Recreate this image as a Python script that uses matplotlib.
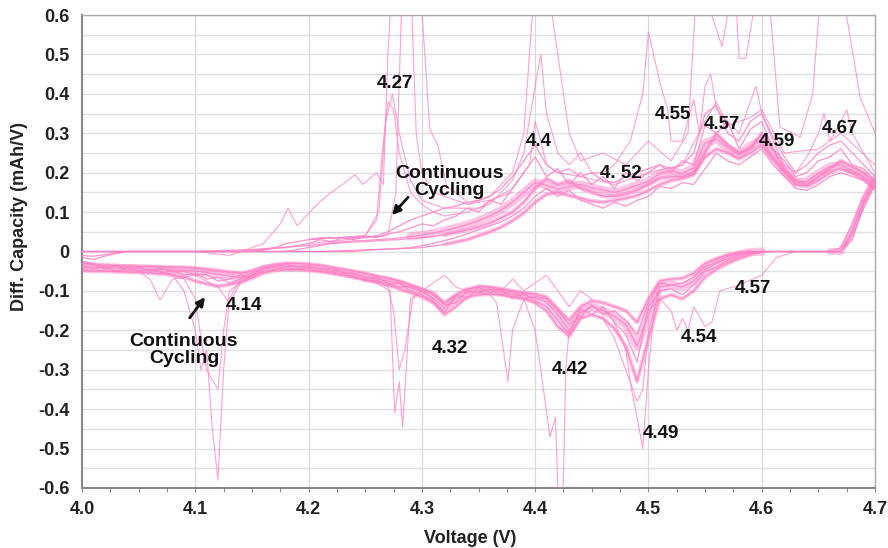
import numpy as np
import matplotlib
matplotlib.use("Agg")
import matplotlib.pyplot as plt
from matplotlib.ticker import MultipleLocator, FixedLocator

plt.rcParams['font.family'] = ['Liberation Sans', 'DejaVu Sans']

# ---------------- data ----------------
# common voltage grid 4.00 .. 4.70 V, 0.01 V step
V_GRID = np.round(np.linspace(4.00, 4.70, 71), 2)

# charge (positive) band curves
CH_MID = [-0.010, -0.012, -0.008, -0.004, 0.000, 0.000, 0.000, 0.000, 0.000, 0.000,
          0.000, 0.001, 0.002, 0.003, 0.004, 0.005, 0.007, 0.009, 0.011, 0.013,
          0.015, 0.018, 0.022, 0.025, 0.027, 0.028, 0.030, 0.032, 0.034, 0.038,
          0.042, 0.047, 0.053, 0.060, 0.068, 0.078, 0.090, 0.105, 0.125, 0.150,
          0.175, 0.168, 0.158, 0.165, 0.170, 0.162, 0.156, 0.150, 0.158, 0.168,
          0.178, 0.198, 0.205, 0.198, 0.212, 0.275, 0.285, 0.262, 0.245, 0.268,
          0.285, 0.240, 0.205, 0.175, 0.178, 0.198, 0.215, 0.220, 0.205, 0.190,
          0.168]
CH_LATE = [0.000, 0.000, 0.000, 0.000, 0.000, 0.000, 0.000, 0.000, 0.000, 0.000,
           0.000, 0.000, 0.000, 0.000, 0.000, 0.000, 0.000, 0.000, 0.000, 0.000,
           0.000, 0.000, 0.001, 0.002, 0.003, 0.004, 0.005, 0.006, 0.007, 0.008,
           0.010, 0.014, 0.018, 0.024, 0.030, 0.040, 0.050, 0.062, 0.078, 0.098,
           0.125, 0.145, 0.150, 0.142, 0.135, 0.128, 0.125, 0.130, 0.135, 0.142,
           0.155, 0.170, 0.180, 0.185, 0.195, 0.240, 0.260, 0.250, 0.235, 0.250,
           0.270, 0.235, 0.200, 0.170, 0.165, 0.180, 0.200, 0.210, 0.200, 0.185,
           0.160]
CH_EARLY = [-0.015, -0.020, -0.012, -0.005, 0.000, 0.000, 0.000, 0.000, 0.000, 0.000,
            0.000, 0.000, 0.000, 0.000, 0.000, 0.000, 0.005, 0.010, 0.020, 0.025,
            0.030, 0.035, 0.035, 0.035, 0.035, 0.036, 0.040, 0.050, 0.065, 0.080,
            0.090, 0.100, 0.110, 0.115, 0.125, 0.130, 0.140, 0.160, 0.190, 0.230,
            0.270, 0.220, 0.200, 0.210, 0.190, 0.200, 0.180, 0.175, 0.190, 0.200,
            0.210, 0.220, 0.210, 0.220, 0.250, 0.350, 0.370, 0.300, 0.280, 0.330,
            0.350, 0.290, 0.240, 0.200, 0.220, 0.250, 0.270, 0.280, 0.250, 0.220,
            0.190]
CH_MID2 = [0.000, 0.000, 0.000, 0.000, 0.000, 0.000, 0.000, 0.000, 0.000, 0.000,
           0.000, 0.000, 0.000, 0.000, 0.000, 0.000, 0.000, 0.000, 0.000, 0.005,
           0.010, 0.015, 0.020, 0.022, 0.024, 0.025, 0.027, 0.029, 0.030, 0.033,
           0.035, 0.038, 0.042, 0.048, 0.055, 0.062, 0.072, 0.085, 0.100, 0.125,
           0.160, 0.185, 0.170, 0.180, 0.160, 0.150, 0.140, 0.140, 0.145, 0.155,
           0.170, 0.185, 0.190, 0.190, 0.200, 0.250, 0.300, 0.270, 0.250, 0.260,
           0.300, 0.260, 0.210, 0.180, 0.170, 0.190, 0.210, 0.230, 0.215, 0.200,
           0.175]
CH_NOISY1 = [0.000, 0.000, 0.000, 0.000, 0.000, 0.000, 0.000, 0.000, 0.000, 0.000,
             0.000, 0.000, 0.000, 0.000, 0.000, 0.002, 0.004, 0.008, 0.010, 0.015,
             0.020, 0.030, 0.025, 0.035, 0.030, 0.040, 0.035, 0.045, 0.050, 0.060,
             0.070, 0.065, 0.080, 0.090, 0.110, 0.100, 0.130, 0.120, 0.160, 0.200,
             0.240, 0.190, 0.210, 0.170, 0.200, 0.170, 0.190, 0.160, 0.200, 0.180,
             0.200, 0.220, 0.200, 0.230, 0.220, 0.320, 0.300, 0.330, 0.260, 0.310,
             0.330, 0.260, 0.230, 0.190, 0.200, 0.230, 0.240, 0.260, 0.220, 0.210,
             0.180]
CH_NOISY2 = [0.000, 0.000, 0.000, 0.000, 0.000, 0.000, 0.000, 0.000, 0.000, 0.000,
             0.000, 0.000, 0.000, 0.000, 0.000, 0.000, 0.000, 0.000, 0.000, 0.000,
             0.000, 0.000, 0.000, 0.000, 0.000, 0.003, 0.005, 0.006, 0.008, 0.010,
             0.015, 0.020, 0.028, 0.035, 0.045, 0.055, 0.065, 0.075, 0.090, 0.110,
             0.140, 0.160, 0.140, 0.155, 0.130, 0.120, 0.110, 0.125, 0.115, 0.130,
             0.140, 0.165, 0.160, 0.175, 0.170, 0.210, 0.250, 0.230, 0.220, 0.240,
             0.260, 0.220, 0.190, 0.160, 0.155, 0.170, 0.190, 0.200, 0.190, 0.180,
             0.155]

# charge outlier curves (early cycles with sharp peaks)
SP1_V = [4.10, 4.13, 4.16, 4.175, 4.182, 4.19, 4.207, 4.219, 4.23, 4.241, 4.248,
         4.26, 4.266, 4.27, 4.274, 4.28, 4.29, 4.298, 4.307, 4.314, 4.322, 4.33,
         4.342, 4.36, 4.38, 4.39, 4.40, 4.41, 4.419, 4.43, 4.44, 4.46, 4.48, 4.50,
         4.52, 4.535, 4.543, 4.55, 4.565, 4.576, 4.58, 4.586, 4.598, 4.605, 4.616,
         4.634, 4.645, 4.653, 4.669, 4.687, 4.70]
SP1_Y = [0.000, -0.010, 0.020, 0.070, 0.110, 0.065, 0.118, 0.148, 0.170, 0.195, 0.170,
         0.200, 0.170, 0.500, 0.700, 0.700, 0.700, 0.700, 0.310, 0.270, 0.165, 0.150,
         0.120, 0.140, 0.200, 0.300, 0.700, 0.700, 0.520, 0.300, 0.230, 0.250, 0.220, 0.280,
         0.230, 0.300, 0.700, 0.650, 0.520, 0.700, 0.490, 0.490, 0.700, 0.700, 0.316,
         0.290, 0.400, 0.700, 0.700, 0.390, 0.300]
SP2_V = [4.20, 4.25, 4.27, 4.277, 4.283, 4.29, 4.295, 4.30, 4.31, 4.32, 4.34, 4.36, 4.38]
SP2_Y = [0.020, 0.035, 0.040, 0.150, 0.700, 0.700, 0.300, 0.200, 0.150, 0.140, 0.120, 0.130, 0.150]
SP3_V = [4.20, 4.25, 4.26, 4.265, 4.27, 4.275, 4.28, 4.29, 4.30, 4.31, 4.32, 4.34, 4.36,
         4.38, 4.39, 4.40, 4.405, 4.41, 4.42, 4.43, 4.44, 4.45, 4.46, 4.47, 4.484, 4.495,
         4.50, 4.51, 4.517, 4.52, 4.53, 4.54, 4.545, 4.55, 4.555, 4.56, 4.57, 4.58, 4.59,
         4.595, 4.60, 4.61, 4.62, 4.63, 4.64, 4.65, 4.655, 4.66, 4.67, 4.675, 4.68, 4.69, 4.70]
SP3_Y = [0.030, 0.040, 0.080, 0.250, 0.380, 0.360, 0.250, 0.150, 0.120, 0.100, 0.090, 0.100, 0.120,
         0.180, 0.250, 0.420, 0.500, 0.350, 0.250, 0.220, 0.250, 0.200, 0.200, 0.220, 0.280, 0.400,
         0.557, 0.430, 0.360, 0.280, 0.280, 0.385, 0.300, 0.420, 0.450, 0.360, 0.330, 0.300, 0.380,
         0.420, 0.350, 0.280, 0.220, 0.200, 0.240, 0.300, 0.350, 0.280, 0.330, 0.360, 0.300, 0.250, 0.200]
SP4_V = [4.20, 4.25, 4.262, 4.268, 4.274, 4.28, 4.29, 4.30, 4.32, 4.35, 4.38, 4.395, 4.40,
         4.405, 4.41, 4.42, 4.44, 4.47, 4.50, 4.53, 4.55, 4.56, 4.57, 4.59, 4.60, 4.62, 4.65, 4.67, 4.70]
SP4_Y = [0.030, 0.040, 0.100, 0.330, 0.400, 0.300, 0.180, 0.130, 0.110, 0.110, 0.160, 0.220, 0.330,
         0.280, 0.220, 0.200, 0.190, 0.170, 0.200, 0.220, 0.330, 0.380, 0.320, 0.340, 0.360, 0.250, 0.260, 0.300, 0.220]

# discharge (negative) band curves
DC_MID = [-0.040, -0.040, -0.041, -0.042, -0.043, -0.044, -0.045, -0.046, -0.047, -0.048,
          -0.050, -0.053, -0.058, -0.062, -0.066, -0.055, -0.045, -0.040, -0.038, -0.038,
          -0.040, -0.043, -0.047, -0.052, -0.058, -0.064, -0.070, -0.075, -0.082, -0.092,
          -0.102, -0.118, -0.143, -0.120, -0.105, -0.098, -0.098, -0.102, -0.108, -0.112,
          -0.118, -0.128, -0.160, -0.200, -0.155, -0.140, -0.150, -0.165, -0.185, -0.240,
          -0.160, -0.090, -0.085, -0.090, -0.075, -0.045, -0.030, -0.018, -0.008, -0.002,
          0.000, 0.000, 0.000, 0.000, 0.000, 0.000, 0.000, 0.000, 0.055, 0.130,
          0.185]
DC_LOW = [-0.048, -0.050, -0.050, -0.051, -0.052, -0.053, -0.055, -0.057, -0.060, -0.065,
          -0.075, -0.082, -0.088, -0.084, -0.078, -0.068, -0.055, -0.048, -0.046, -0.046,
          -0.048, -0.051, -0.055, -0.060, -0.066, -0.072, -0.078, -0.085, -0.095, -0.105,
          -0.115, -0.130, -0.160, -0.140, -0.115, -0.110, -0.108, -0.110, -0.115, -0.120,
          -0.130, -0.150, -0.190, -0.215, -0.170, -0.160, -0.170, -0.195, -0.240, -0.330,
          -0.220, -0.120, -0.110, -0.120, -0.100, -0.065, -0.045, -0.030, -0.018, -0.008,
          -0.003, 0.000, 0.000, 0.000, 0.000, 0.000, 0.000, 0.000, 0.040, 0.110,
          0.170]
DC_HIGH = [-0.030, -0.033, -0.035, -0.036, -0.037, -0.038, -0.038, -0.039, -0.040, -0.040,
           -0.042, -0.045, -0.048, -0.052, -0.055, -0.050, -0.040, -0.034, -0.030, -0.030,
           -0.032, -0.035, -0.040, -0.045, -0.050, -0.056, -0.062, -0.068, -0.075, -0.085,
           -0.095, -0.105, -0.130, -0.110, -0.095, -0.090, -0.090, -0.095, -0.100, -0.105,
           -0.108, -0.115, -0.145, -0.175, -0.140, -0.125, -0.130, -0.140, -0.150, -0.180,
           -0.120, -0.075, -0.070, -0.068, -0.055, -0.030, -0.018, -0.008, -0.003, 0.000,
           0.000, 0.000, 0.000, 0.000, 0.000, 0.000, 0.000, 0.010, 0.070, 0.140,
           0.190]
DC_NOISY1 = [-0.035, -0.045, -0.038, -0.050, -0.042, -0.050, -0.045, -0.055, -0.048, -0.060,
             -0.055, -0.070, -0.065, -0.080, -0.070, -0.060, -0.050, -0.045, -0.040, -0.045,
             -0.042, -0.050, -0.050, -0.060, -0.062, -0.075, -0.072, -0.085, -0.080, -0.100,
             -0.110, -0.125, -0.155, -0.110, -0.120, -0.090, -0.105, -0.095, -0.120, -0.105,
             -0.125, -0.140, -0.175, -0.210, -0.145, -0.160, -0.140, -0.180, -0.210, -0.280,
             -0.140, -0.100, -0.095, -0.110, -0.085, -0.050, -0.040, -0.022, -0.012, -0.005,
             0.000, 0.000, 0.000, 0.000, 0.000, 0.000, 0.000, 0.000, 0.030, 0.120,
             0.175]
DC_NOISY2 = [-0.025, -0.030, -0.045, -0.035, -0.048, -0.040, -0.050, -0.042, -0.052, -0.050,
             -0.062, -0.058, -0.075, -0.070, -0.060, -0.065, -0.042, -0.038, -0.032, -0.040,
             -0.036, -0.045, -0.042, -0.055, -0.055, -0.068, -0.065, -0.080, -0.090, -0.088,
             -0.100, -0.110, -0.135, -0.130, -0.100, -0.105, -0.095, -0.110, -0.100, -0.120,
             -0.115, -0.120, -0.150, -0.185, -0.165, -0.135, -0.160, -0.150, -0.175, -0.210,
             -0.130, -0.080, -0.085, -0.080, -0.065, -0.038, -0.028, -0.012, -0.006, 0.000,
             0.000, 0.000, 0.000, 0.000, 0.000, 0.000, 0.000, 0.000, 0.050, 0.125,
             0.180]

# discharge outlier curves
DS1_V = [4.06, 4.08, 4.09, 4.10, 4.105, 4.11, 4.115, 4.12, 4.125, 4.13, 4.14, 4.16]
DS1_Y = [-0.045, -0.060, -0.100, -0.200, -0.300, -0.250, -0.450, -0.580, -0.300, -0.120, -0.070, -0.050]
DS2_V = [4.07, 4.09, 4.10, 4.105, 4.11, 4.12, 4.125, 4.13, 4.15]
DS2_Y = [-0.050, -0.070, -0.120, -0.220, -0.300, -0.350, -0.200, -0.100, -0.060]
DS3_V = [4.05, 4.06, 4.069, 4.08, 4.10, 4.12, 4.13, 4.14, 4.15]
DS3_Y = [-0.050, -0.070, -0.123, -0.070, -0.060, -0.090, -0.130, -0.080, -0.060]
DS4_V = [4.25, 4.26, 4.272, 4.276, 4.28, 4.283, 4.29, 4.30, 4.31]
DS4_Y = [-0.070, -0.080, -0.100, -0.410, -0.330, -0.445, -0.120, -0.100, -0.120]
DS5_V = [4.26, 4.27, 4.275, 4.28, 4.285, 4.292, 4.30]
DS5_Y = [-0.075, -0.090, -0.150, -0.300, -0.250, -0.120, -0.100]
DS6_V = [4.35, 4.36, 4.366, 4.376, 4.38, 4.39]
DS6_Y = [-0.100, -0.110, -0.130, -0.330, -0.200, -0.120]
DS7_V = [4.39, 4.40, 4.405, 4.413, 4.418, 4.421, 4.424, 4.427, 4.43]
DS7_Y = [-0.120, -0.200, -0.300, -0.470, -0.420, -0.700, -0.700, -0.300, -0.200]
DS8_V = [4.47, 4.48, 4.485, 4.49, 4.495, 4.50, 4.505, 4.51]
DS8_Y = [-0.180, -0.250, -0.350, -0.420, -0.500, -0.300, -0.150, -0.090]
DS9_V = [4.46, 4.47, 4.48, 4.49, 4.495, 4.50, 4.51]
DS9_Y = [-0.170, -0.220, -0.300, -0.380, -0.350, -0.200, -0.100]
DS10_V = [4.50, 4.51, 4.52, 4.525, 4.53, 4.535, 4.54, 4.55, 4.556, 4.563, 4.58, 4.60, 4.613, 4.63, 4.67]
DS10_Y = [-0.150, -0.120, -0.150, -0.200, -0.170, -0.200, -0.140, -0.190, -0.180, -0.100, -0.085, -0.060, -0.015, 0.000, 0.000]
DS11_V = [4.30, 4.31, 4.32, 4.33, 4.34, 4.35, 4.36, 4.37, 4.38, 4.39, 4.40, 4.41, 4.42, 4.43, 4.44, 4.45]
DS11_Y = [-0.100, -0.080, -0.060, -0.090, -0.100, -0.085, -0.090, -0.100, -0.070, -0.100, -0.080, -0.060, -0.100, -0.140, -0.100, -0.120]

# peak labels: (text, voltage, value)
PEAK_LABELS = [("4.27", 4.276, 0.425), ("4.4", 4.403, 0.28), ("4. 52", 4.476, 0.199),
               ("4.55", 4.522, 0.347), ("4.57", 4.565, 0.321), ("4.59", 4.613, 0.278),
               ("4.67", 4.669, 0.311), ("4.14", 4.143, -0.138), ("4.32", 4.325, -0.245),
               ("4.42", 4.431, -0.300), ("4.49", 4.511, -0.463), ("4.54", 4.545, -0.217),
               ("4.57", 4.592, -0.095)]

X_TICKS = [4.0, 4.1, 4.2, 4.3, 4.4, 4.5, 4.6, 4.7]
Y_TICKS = [-0.6, -0.5, -0.4, -0.3, -0.2, -0.1, 0.0, 0.1, 0.2, 0.3, 0.4, 0.5, 0.6]
Y_TICK_LABELS = ["-0.6", "-0.5", "-0.4", "-0.3", "-0.2", "-0.1", "0",
                 "0.1", "0.2", "0.3", "0.4", "0.5", "0.6"]

# ---------------- figure ----------------
PINK = "#ff80c4"
fig = plt.figure(figsize=(8.88, 5.48), dpi=100)
ax = fig.add_axes([82 / 888, (548 - 488) / 548, (875 - 82) / 888, (488 - 15) / 548])

V_ARR = V_GRID
# band cores (charge core only where the curves are bunched, discharge core up to 4.60 V)
core = dict(color=PINK, alpha=0.45, zorder=2, solid_capstyle="round", solid_joinstyle="round")
ax.plot(V_ARR[29:], CH_MID[29:], lw=6, **core)
ax.plot(V_ARR[:61], DC_MID[:61], lw=6, **core)
ax.plot(V_ARR[66:], DC_MID[66:], lw=5, **core)
for ys in (CH_LATE, CH_MID2):
    ax.plot(V_ARR[32:], ys[32:], lw=3, **core)
for ys in (DC_LOW, DC_HIGH):
    ax.plot(V_ARR[:60], ys[:60], lw=3, **core)
# individual cycles
for ys in (CH_MID, CH_LATE, CH_EARLY, CH_MID2, CH_NOISY1, CH_NOISY2,
           DC_MID, DC_LOW, DC_HIGH, DC_NOISY1, DC_NOISY2):
    ax.plot(V_ARR, ys, color=PINK, lw=0.9, alpha=0.85, zorder=3)
for vs, ys in ((SP1_V, SP1_Y), (SP2_V, SP2_Y), (SP3_V, SP3_Y), (SP4_V, SP4_Y),
               (DS1_V, DS1_Y), (DS2_V, DS2_Y), (DS3_V, DS3_Y), (DS4_V, DS4_Y),
               (DS5_V, DS5_Y), (DS6_V, DS6_Y), (DS7_V, DS7_Y), (DS8_V, DS8_Y),
               (DS9_V, DS9_Y), (DS10_V, DS10_Y), (DS11_V, DS11_Y)):
    ax.plot(vs, ys, color=PINK, lw=0.8, alpha=0.75, zorder=3)

ax.set_xlim(4.0, 4.7)
ax.set_ylim(-0.6, 0.6)
ax.xaxis.set_major_locator(FixedLocator(X_TICKS))
ax.xaxis.set_minor_locator(MultipleLocator(0.025))
ax.set_xticklabels([f"{t:.1f}" for t in X_TICKS])
ax.yaxis.set_major_locator(FixedLocator(Y_TICKS))
ax.yaxis.set_minor_locator(MultipleLocator(0.05))
ax.set_yticklabels(Y_TICK_LABELS)

ax.grid(True, which="major", axis="x", color="#d8d8d8", lw=0.9, zorder=0)
ax.grid(True, which="both", axis="y", color="#e0e0e0", lw=1.0, zorder=0)
ax.set_axisbelow(True)

ax.tick_params(axis="x", which="major", length=3, width=0.8, color="#888888",
               labelsize=13, pad=6)
ax.tick_params(axis="x", which="minor", length=3, width=0.8, color="#888888")
ax.tick_params(axis="y", which="both", length=0, labelsize=13, pad=9)
for lab in ax.get_xticklabels() + ax.get_yticklabels():
    lab.set_fontweight("bold")
    lab.set_color("#222222")

for side in ("top", "right"):
    ax.spines[side].set_color("#aaaaaa")
    ax.spines[side].set_linewidth(1.0)
for side in ("left", "bottom"):
    ax.spines[side].set_color("#888888")
    ax.spines[side].set_linewidth(1.5)

ax.set_xlabel("Voltage (V)", fontsize=13, fontweight="bold", color="#222222")
ax.set_ylabel("Diff. Capacity (mAh/V)", fontsize=13, fontweight="bold", color="#222222")
ax.xaxis.set_label_coords(0.489, -0.088)
ax.yaxis.set_label_coords(-0.068, 0.573)

for txt, vx, vy in PEAK_LABELS:
    ax.text(vx, vy, txt, fontsize=13.5, fontweight="bold", color="#111111",
            ha="center", va="center", zorder=5)

ax.text(4.324, 0.176, "Continuous\nCycling", fontsize=14, fontweight="bold",
        color="#111111", ha="center", va="center", linespacing=1.0, zorder=5)
ax.annotate("", xy=(4.272, 0.087), xytext=(4.2895, 0.143),
            arrowprops=dict(arrowstyle="-|>,head_length=0.5,head_width=0.25",
                            color="#111111", lw=2), zorder=5)
ax.text(4.09, -0.25, "Continuous\nCycling", fontsize=14, fontweight="bold",
        color="#111111", ha="center", va="center", linespacing=1.0, zorder=5)
ax.annotate("", xy=(4.110, -0.11), xytext=(4.0936, -0.174),
            arrowprops=dict(arrowstyle="-|>,head_length=0.5,head_width=0.25",
                            color="#111111", lw=2), zorder=5)

fig.savefig("out.png", dpi=100)
